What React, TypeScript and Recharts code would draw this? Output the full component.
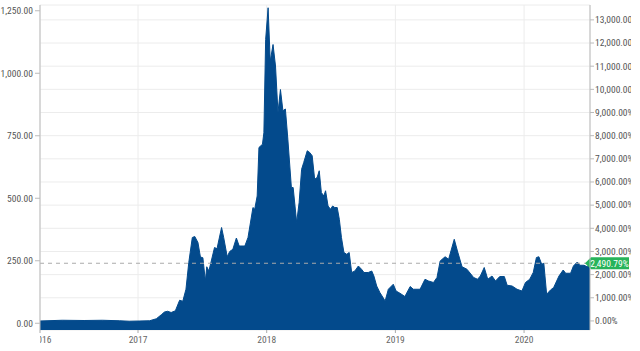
import { ComposedChart, Area, Line, XAxis, YAxis, CartesianGrid, ReferenceLine } from "recharts";

const dates = [
  "2016-03-29", "2016-05-31", "2016-08-01", "2016-09-22", "2016-11-09", "2016-12-07",
  "2017-01-06", "2017-02-03", "2017-02-22", "2017-03-08", "2017-03-17", "2017-03-26",
  "2017-04-05", "2017-04-17", "2017-04-29", "2017-05-08", "2017-05-17", "2017-05-25",
  "2017-06-04", "2017-06-11", "2017-06-20", "2017-06-27", "2017-07-04", "2017-07-11",
  "2017-07-15", "2017-07-21", "2017-08-06", "2017-08-13", "2017-08-26", "2017-09-01",
  "2017-09-11", "2017-09-18", "2017-09-27", "2017-10-07", "2017-10-15", "2017-10-31",
  "2017-11-09", "2017-11-23", "2017-11-28", "2017-12-05", "2017-12-10", "2017-12-20",
  "2017-12-24", "2017-12-29", "2018-01-05", "2018-01-11", "2018-01-19", "2018-01-26",
  "2018-02-02", "2018-02-09", "2018-02-16", "2018-02-23", "2018-03-02", "2018-03-12",
  "2018-03-17", "2018-03-27", "2018-04-03", "2018-04-10", "2018-04-16", "2018-04-26",
  "2018-05-03", "2018-05-10", "2018-05-17", "2018-05-24", "2018-05-30", "2018-06-05",
  "2018-06-12", "2018-06-17", "2018-06-24", "2018-07-01", "2018-07-07", "2018-07-13",
  "2018-07-20", "2018-07-26", "2018-08-01", "2018-08-08", "2018-08-16", "2018-08-23",
  "2018-08-30", "2018-09-08", "2018-09-18", "2018-09-27", "2018-10-04", "2018-10-16",
  "2018-10-26", "2018-11-01", "2018-11-09", "2018-11-18", "2018-12-03", "2018-12-12",
  "2018-12-26", "2019-01-03", "2019-01-14", "2019-01-28", "2019-02-12", "2019-02-21",
  "2019-03-12", "2019-03-26", "2019-04-05", "2019-04-19", "2019-04-29", "2019-05-08",
  "2019-05-22", "2019-06-01", "2019-06-17", "2019-06-26", "2019-07-09", "2019-07-23",
  "2019-08-11", "2019-08-22", "2019-08-30", "2019-09-10", "2019-09-20", "2019-10-02",
  "2019-10-12", "2019-10-24", "2019-11-06", "2019-11-14", "2019-11-28", "2019-12-12",
  "2019-12-26", "2020-01-05", "2020-01-17", "2020-01-27", "2020-02-05", "2020-02-12",
  "2020-02-20", "2020-02-26", "2020-03-05", "2020-03-16", "2020-03-25", "2020-04-09",
  "2020-04-21", "2020-04-28", "2020-05-12", "2020-05-20", "2020-05-31", "2020-06-07",
  "2020-06-19", "2020-06-28", "2020-07-06",
];

const prices = [
  9, 12, 11, 12, 10, 8,
  9, 10, 18, 34, 45, 48,
  43, 50, 92, 88, 136, 243,
  343, 347, 323, 265, 262, 169,
  226, 209, 303, 298, 383, 343,
  266, 287, 296, 341, 309, 309,
  343, 463, 456, 509, 703, 716,
  762, 1135, 1262, 1048, 1115, 1029,
  843, 935, 850, 857, 736, 543,
  543, 403, 483, 616, 643, 690,
  683, 670, 576, 583, 610, 523,
  509, 530, 469, 456, 469, 463,
  463, 416, 343, 283, 276, 283,
  203, 209, 229, 216, 203, 203,
  209, 189, 149, 123, 89, 136,
  156, 129, 120, 107, 147, 136,
  136, 176, 169, 163, 183, 249,
  266, 256, 336, 289, 226, 216,
  183, 176, 189, 223, 176, 189,
  169, 187, 187, 152, 149, 136,
  129, 163, 176, 203, 263, 266,
  236, 240, 116, 133, 143, 189,
  213, 200, 200, 229, 245, 232,
  232, 226, 240,
];

const lastChange = 2490.79;
const yearTicks = ["2017-01-01", "2018-01-01", "2019-01-01", "2020-01-01"];
const priceTicks = [0, 250, 500, 750, 1000, 1250];
const changeTicks = [0, 1000, 2000, 3000, 4000, 5000, 6000, 7000, 8000, 9000, 10000, 11000, 12000, 13000];

const lastPrice = prices[prices.length - 1];
const basePrice = lastPrice / (1 + lastChange / 100);
const toChange = (p: number) => (p / basePrice - 1) * 100;

const priceDomain = [-27, 1273];
const changeDomain = priceDomain.map(toChange);

const data = dates.map((d, i) => ({ t: Date.parse(d), price: prices[i], change: toChange(prices[i]) }));
const xTicks = [data[0].t, ...yearTicks.map((d) => Date.parse(d))];

const FONT = '"Liberation Sans Narrow", "Roboto Condensed", Roboto, sans-serif';
const BLUE = "#034a8c";
const TICK_CLIP = 631;
const BADGE_END = 629;

const fmt2 = (n: number) => n.toLocaleString("en-US", { minimumFractionDigits: 2, maximumFractionDigits: 2 });

function YearTick(props: any) {
  const { x, y, payload, index } = props;
  const label = new Date(payload.value).getUTCFullYear();
  if (index === 0) {
    return (
      <g>
        <defs>
          <clipPath id="first-year-clip">
            <rect x={x} y={y - 4} width={60} height={20} />
          </clipPath>
        </defs>
        <text x={x + 2} y={y} dy="0.71em" textAnchor="middle" fill="#666" fontSize={9.5} fontFamily={FONT} clipPath="url(#first-year-clip)">
          {label}
        </text>
      </g>
    );
  }
  return (
    <text x={x} y={y} dy="0.71em" textAnchor="middle" fill="#666" fontSize={9.5} fontFamily={FONT}>
      {label}
    </text>
  );
}

function ChangeTick(props: any) {
  const { x, y, payload, index } = props;
  const id = `change-clip-${index}`;
  return (
    <g>
      <defs>
        <clipPath id={id}>
          <rect x={x - 2} y={y - 8} width={TICK_CLIP - x + 2} height={16} />
        </clipPath>
      </defs>
      <text x={x} y={y} dy="0.35em" textAnchor="start" fill="#555" fontSize={9.5} fontFamily={FONT} clipPath={`url(#${id})`}>
        {fmt2(payload.value)}%
      </text>
    </g>
  );
}

function LastBadge(props: any) {
  const { x, y, width } = props.viewBox;
  const x0 = x + width;
  const h = 6;
  return (
    <g>
      <polygon points={`${x0 - 5},${y} ${x0 + 1},${y - h} ${BADGE_END},${y - h} ${BADGE_END},${y + h} ${x0 + 1},${y + h}`} fill="#27b35a" />
      <text x={(x0 + BADGE_END) / 2} y={y} dy="0.35em" textAnchor="middle" fill="#fff" fontSize={9.5} fontFamily={FONT}>
        {fmt2(lastChange)}%
      </text>
    </g>
  );
}

export default function App() {
  return (
    <div style={{ position: "absolute", left: 0, top: 0, width: 640, height: 351, background: "#fff" }}>
      <ComposedChart width={640} height={351} data={data} margin={{ top: 5, right: 0, bottom: 0, left: 0 }}>
        <CartesianGrid yAxisId="right" stroke="#ececec" />
        <XAxis
          dataKey="t"
          type="number"
          scale="time"
          domain={[data[0].t, data[data.length - 1].t]}
          ticks={xTicks}
          interval={0}
          height={21}
          axisLine={false}
          tickLine={{ stroke: "#aaa" }}
          tickSize={3}
          tickMargin={3}
          tick={<YearTick />}
        />
        <YAxis
          yAxisId="left"
          orientation="left"
          width={40}
          domain={priceDomain}
          ticks={priceTicks}
          interval={0}
          allowDataOverflow
          tickFormatter={fmt2}
          tick={{ fill: "#555", fontSize: 9.5, fontFamily: FONT }}
          tickSize={5}
          tickMargin={2}
          axisLine={{ stroke: "#bbb" }}
          tickLine={{ stroke: "#bbb" }}
        />
        <YAxis
          yAxisId="right"
          orientation="right"
          width={50}
          domain={changeDomain}
          ticks={changeTicks}
          interval={0}
          allowDataOverflow
          tick={<ChangeTick />}
          tickSize={4}
          tickMargin={1}
          axisLine={{ stroke: "#bbb" }}
          tickLine={{ stroke: "#bbb" }}
        />
        <Area
          yAxisId="left"
          dataKey="price"
          type="linear"
          baseValue="dataMin"
          fill={BLUE}
          fillOpacity={1}
          stroke={BLUE}
          strokeWidth={1}
          dot={false}
          activeDot={false}
          isAnimationActive={false}
        />
        <Line yAxisId="right" dataKey="change" stroke="none" dot={false} activeDot={false} isAnimationActive={false} />
        <ReferenceLine yAxisId="left" y={lastPrice} stroke="#aaa" strokeDasharray="4 4" label={(p: any) => <LastBadge {...p} />} />
      </ComposedChart>
    </div>
  );
}
